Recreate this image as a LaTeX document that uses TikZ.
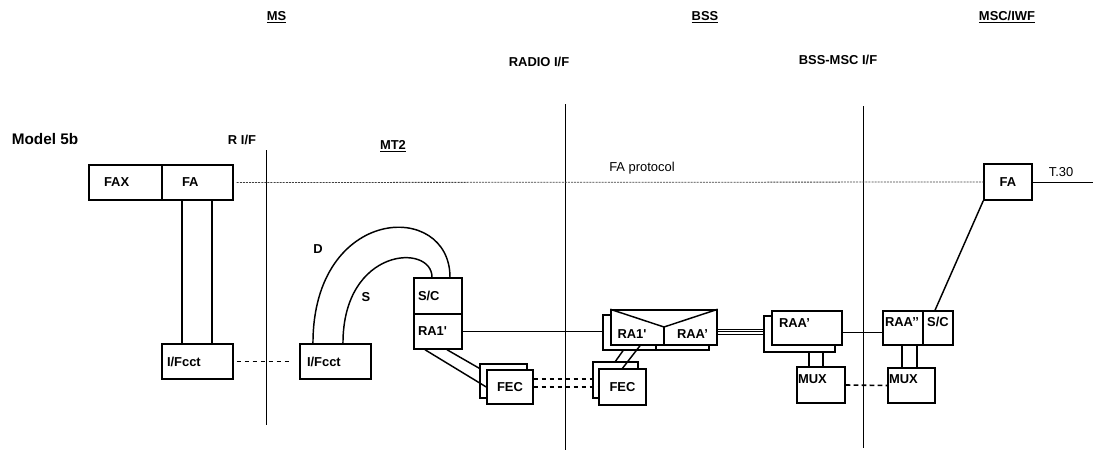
\documentclass[tikz,border=0pt]{standalone}
\usepackage{fontspec}
\setmainfont{Liberation Sans}
\usetikzlibrary{positioning}

\begin{document}
\begin{tikzpicture}[x=0.75pt, y=-0.75pt,
    every node/.style={font=\fontsize{9.7}{11.5}\selectfont\bfseries},
    plain/.style={font=\fontsize{9.7}{11.5}\selectfont},
    box/.style 2 args={draw, line width=1.1pt, fill=white, inner sep=0pt,
        minimum width=#1*0.75pt, minimum height=#2*0.75pt},
    lbox/.style n args={4}{box={#1}{#2}, align=left, inner xsep=#3pt, text width=#4pt},
    ifline/.style={line width=0.6pt},
    proto/.style={line width=0.6pt, black!75, dash pattern=on 1.5pt off 0.8pt},
    link/.style={line width=1.1pt},
    thinlink/.style={line width=0.6pt},
    dashlink/.style={line width=1.2pt, dash pattern=on 3.5pt off 2.5pt},
    triline/.style={line width=0.5pt}]
    \useasboundingbox (0,0) rectangle (1093,454);

    % titles
    \node (ms) at (276.5,17) {\underline{MS}};
    \node (bss) at (705,17) {\underline{BSS}};
    \node (msc) at (1007,17) {\underline{MSC/IWF}};
    \node (radio) at (539,62) {RADIO I/F};
    \node (bssmsc) at (838,60) {BSS-MSC I/F};
    \node[font=\fontsize{11.5}{13}\selectfont\bfseries] (model) at (45,139.5) {Model 5b};
    \node (rif) at (242,139.5) {R I/F};
    \node (mt) at (393,146) {\underline{MT2}};
    \node[plain] (prot) at (642,168) {FA protocol};
    \node[plain] (t30) at (1061,172) {T.30};

    % interfaces
    \draw[ifline] (266,150) -- (266,425);
    \draw[ifline] (565,104) -- (565,450);
    \draw[ifline] (863,106) -- (863,448);

    % MS side
    \node[lbox={73}{35}{11.25}{32.25}] (fax) at (125.5,182.5) {FAX};
    \node[lbox={71}{35}{15}{23.25}] (fams) at (197.5,182.5) {FA};
    \node[lbox={71}{35}{3.75}{45.75}] (ifl) at (197.5,361.5) {I/Fcct};
    \node[lbox={71}{35}{5.25}{42.75}] (ifr) at (335.5,361.5) {I/Fcct};
    \node[lbox={48}{36}{3}{30}] (sc) at (438,296) {S/C};
    \node[lbox={48}{35}{3}{30}] (ramt) at (438,331.5) {RA1\textquotesingle};
    \node[box={47}{34}] (fecmb) at (503.5,381) {};
    \node[box={46}{34}] (fecm) at (510,387) {FEC};

    % BSS
    \node[box={45}{36}] (fecbb) at (615.5,380) {};
    \node[box={47}{36}] (fecb) at (622.5,387) {FEC};
    \node[box={53}{35}] (rabb) at (629.5,332.5) {};
    \node[box={53}{35}] (raab) at (682.5,332.5) {};
    \node[box={106}{35}] (rabox) at (664,327.5) {};
    \coordinate (vtip) at (664,327);
    \draw[link] (rabox.north west) -- (vtip) -- (rabox.north east);
    \draw[link] (vtip) -- (vtip |- rabox.south);
    \node (ratx) at (632,334.5) {RA1\textquotesingle};
    \node (raatx) at (692.5,334.5) {RAA’};
    \node[box={71}{36}] (raamb) at (799.5,334) {};
    \node[lbox={70}{34}{5.25}{42}, text depth=7.5pt] (raam) at (807,328) {RAA’};
    \node[lbox={48}{36}{0.75}{34.5}, text depth=9pt] (muxl) at (821,385) {MUX};

    % MSC/IWF
    \node[lbox={40}{34}{1.5}{27}, text depth=9pt] (raai) at (903,328) {RAA’’};
    \node[box={30}{34}, text depth=9pt] (scm) at (938,328) {S/C};
    \node[lbox={47}{35}{0.75}{33.75}, text depth=9pt] (muxr) at (911.5,385.5) {MUX};
    \node[box={48}{36}] (fam) at (1008,182) {FA};
    \coordinate (t30end) at (1093,182);

    % connections
    \draw[proto] ([xshift=2.25pt]fams.east) -- (fam.west);
    \draw[thinlink] (fam.east) -- (t30end);
    \draw[link] ([xshift=-11.6pt]fams.south) -- ([xshift=-11.6pt]ifl.north);
    \draw[link] ([xshift=10.9pt]fams.south) -- ([xshift=10.9pt]ifl.north);
    \draw[dashlink] ([xshift=2.25pt]ifl.east) -- ([xshift=-5.25pt]ifr.west);
    \draw[link] ([xshift=-16.9pt]ifr.north) .. controls (313,205) and (450,200) .. ([xshift=9pt]sc.north);
    \draw[link] ([xshift=5.6pt]ifr.north) .. controls (343,247) and (432,243) .. ([xshift=-4.5pt]sc.north);
    \node (dlab) at (318,249) {D};
    \node (slab) at (366,297) {S};
    \draw[link] ([xshift=-9.75pt]ramt.south) -- (fecm.west);
    \draw[link] ([xshift=6.75pt]ramt.south) -- ([yshift=-3.75pt]fecmb.north west);
    \draw[thinlink] (ramt.east) -- (ramt.east -| rabb.west);
    \draw[dashlink] ([yshift=6pt]fecm.east) -- ([yshift=6pt]fecm.east -| fecbb.west);
    \draw[dashlink] (fecm.east) -- (fecb.west);
    \draw[link] ([xshift=-4.9pt]rabb.south) -- (fecbb.north);
    \draw[link] ([xshift=-18pt]rabox.south) -- (fecb.north);
    \foreach \dy in {-1.1,-3,-4.9}
        \draw[triline] ([yshift=\dy pt]rabox.east) -- ([yshift=\dy pt]rabox.east -| raamb.west);
    \draw[thinlink] ([yshift=-3pt]raam.east) -- ([yshift=-3pt]raai.west);
    \draw[link] ([xshift=-9pt]muxl.north) -- ([xshift=-9pt]muxl.north |- raamb.south);
    \draw[link] ([xshift=1.5pt]muxl.north) -- ([xshift=1.5pt]muxl.north |- raamb.south);
    \draw[link] ([xshift=-7.1pt]muxr.north) -- ([xshift=-7.1pt]muxr.north |- raai.south);
    \draw[link] ([xshift=4.1pt]muxr.north) -- ([xshift=4.1pt]muxr.north |- raai.south);
    \draw[dashlink] (muxl.east) -- (muxr.west);
    \draw[link] (fam.south west) -- ([xshift=-2.25pt]scm.north);
\end{tikzpicture}
\end{document}
